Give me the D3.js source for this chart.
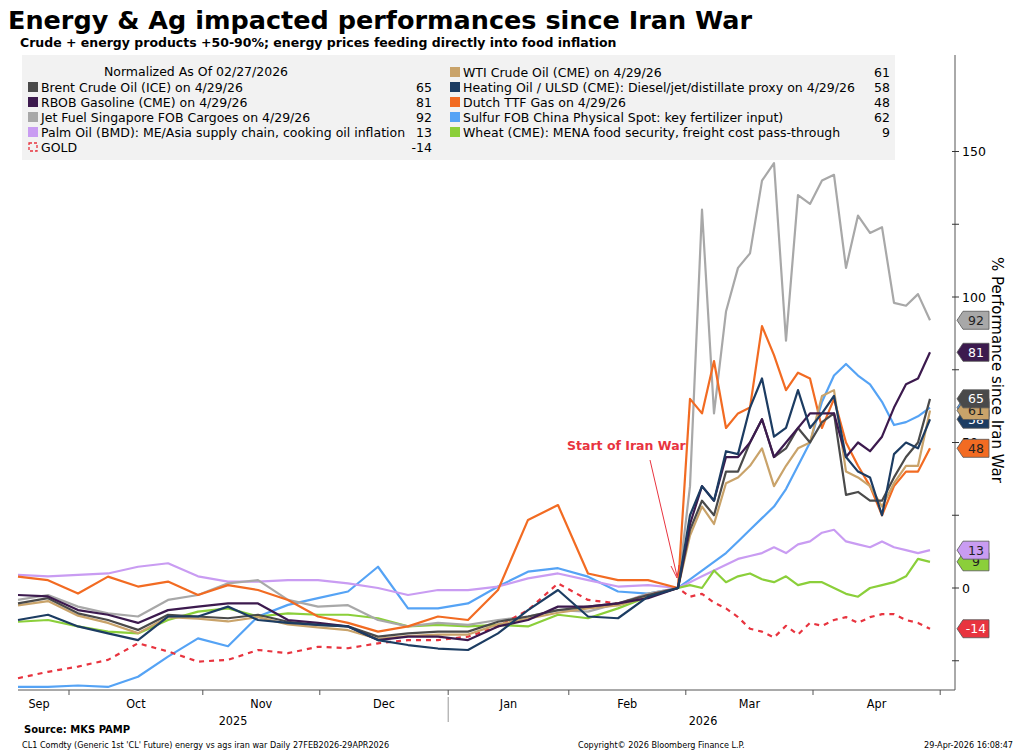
<!DOCTYPE html>
<html>
<head>
<meta charset="utf-8">
<script src="https://cdn.jsdelivr.net/npm/d3@7"></script>
<style>
body { margin: 0; background: #fff; }
text { font-family: "DejaVu Sans", Verdana, sans-serif; }
</style>
</head>
<body>
<div id="chart"></div>
<script>
// ---------------------- data (trading-day index, % since 02/27/2026) ----------------------
var days = [0,5,10,15,20,25,30,35,40,45,50,55,60,65,70,75,80,85,90,95,100,105,
            110,112,114,116,118,120,122,124,126,128,130,132,134,136,138,140,142,144,146,148,150,152];

var brent   = [-5.3,-3.5,-8.7,-11,-14.4,-9.2,-9.8,-10.4,-9.2,-11.6,-12.7,-13.2,-16.7,-15.6,-15,-15,-11.6,-9.8,-7.6,-6.4,-5.3,-2.4,
               0,20,30,25,40,40,50,58,45,48,55,50,57,60,32,33,30,30,38,45,50,65];
var wti     = [-6,-4.5,-9.5,-12,-15.5,-10,-10.5,-11.5,-10,-12.5,-13.5,-14.5,-17.5,-16.5,-16,-16,-12.5,-10.5,-8.5,-7,-6,-3,
               0,18,28,22,36,38,42,48,35,42,48,50,66,68,40,38,35,28,36,42,42,61];
var rbob    = [-2.4,-2.9,-7.6,-9.2,-12,-7.6,-6.4,-5.3,-5.3,-11,-12,-13.2,-17.9,-16.7,-16.7,-17.9,-13.2,-11,-6.4,-6.4,-5.3,-3.5,
               0,22,35,30,45,45,50,58,45,50,55,60,60,60,45,50,47,52,62,70,72,81];
var heating = [-11,-9.2,-13.2,-15.6,-17.9,-9.8,-9.8,-6.4,-11,-12,-12.7,-13.2,-17.9,-19.6,-20.8,-21.3,-15.6,-7.6,-0.7,-9.8,-10.4,-3,
               0,25,35,30,47,46,62,72,52,55,68,55,60,66,45,40,38,25,46,50,48,58];
var jet     = [-4.1,-2.4,-6.4,-8.7,-9.8,-4.1,-2.4,1.6,2.7,-4.1,-6.4,-5.9,-11,-13.2,-12,-12.7,-11,-9.8,-7.6,-8.1,-5.3,-1.9,
               0,35,130,60,95,110,115,140,146,85,135,132,140,142,110,128,122,124,98,97,101,92];
var ttf     = [3.9,2.7,-1.9,3.9,0.5,2.2,-2.4,1,-0.7,-4.1,-9.8,-12,-15,-13.2,-9.8,-11,-0.7,23.4,28.5,5,2.7,2.7,
               0,65,60,78,55,60,62,90,80,68,74,72,55,65,50,42,35,25,35,40,40,48];
var sulfur  = [-34,-34,-33.5,-34,-30.5,-23.6,-17.3,-20,-9.8,-5.8,-3.5,-1.2,7.3,-7,-7,-5.3,0.5,5.6,6.8,3.9,-1.2,-1.9,
               0,3,6,9,12,16,20,24,28,34,42,50,64,73,77,73,70,64,56,57,59,62];
var palm    = [4.5,4,4.5,5,7.3,8.5,4,2.2,2.2,2.7,2.7,1.6,0,-2.4,-0.7,-0.7,0.5,3.3,5,2.7,0.5,1,
               0,2,4,6,8,10,11,12,14,12,15,16,19,20,16,15,14,16,14,13,12,13];
var wheat   = [-11.6,-11,-13.2,-15,-15.6,-11,-8.1,-7,-9.8,-8.7,-9.2,-9.2,-10.4,-13.2,-12.7,-13.2,-12.7,-13.2,-9.2,-10.4,-7,-3,
               0,1,0,6,2,4,5,3,2,4,1,2,2,0,-2,-3,0,1,2,4,10,9];
var gold    = [-31,-28.8,-27,-24.7,-19,-21.8,-25.3,-24.7,-21.3,-22.4,-20.2,-20.7,-19,-17.9,-17.9,-16.7,-13.2,-7.6,1.6,-4.1,-5.3,-2.4,
               0,-3,-2,-5,-7,-10,-14,-15,-17,-13,-16,-12,-13,-11,-10,-12,-10,-9,-9,-11,-12,-14];

var monthTicks  = [8.5, 30.8, 50.3, 71.7, 91.8, 111.3, 132.5, 153.7];
var monthLabels = ["Sep","Oct","Nov","Dec","Jan","Feb","Mar","Apr"];
var yTicks  = [-25, 0, 25, 50, 75, 100, 125, 150];
var yLabels = [0, 50, 100, 150];

var legendLeft = [
  ["Brent Crude Oil (ICE) on 4/29/26", "65", "#4a4a4a"],
  ["RBOB Gasoline (CME) on 4/29/26", "81", "#3c1a4e"],
  ["Jet Fuel Singapore FOB Cargoes on 4/29/26", "92", "#a8a8a8"],
  ["Palm Oil (BMD): ME/Asia supply chain, cooking oil inflation", "13", "#c99cf2"],
  ["GOLD", "-14", "#e8343f"]
];
var legendRight = [
  ["WTI Crude Oil (CME) on 4/29/26", "61", "#c9a36a"],
  ["Heating Oil / ULSD (CME): Diesel/jet/distillate proxy on 4/29/26", "58", "#1c3c62"],
  ["Dutch TTF Gas on 4/29/26", "48", "#f26b22"],
  ["Sulfur FOB China Physical Spot: key fertilizer input)", "62", "#55a3f5"],
  ["Wheat (CME): MENA food security, freight cost pass-through", "9", "#8bcf3a"]
];

// ---------------------- svg ----------------------
var svg = d3.select("#chart").append("svg")
     .attr("width", 1024)
     .attr("height", 756);

var x = d3.scaleLinear().domain([0, 152]).range([18, 930]);
var y = d3.scaleLinear().domain([0, 150]).range([588, 151.5]);

svg.append("text").text("Energy & Ag impacted performances since Iran War")
     .attr("x", 8).attr("y", 29).style("font-size", "25.5px").style("font-weight", "bold");
svg.append("text").text("Crude + energy products +50-90%; energy prices feeding directly into food inflation")
     .attr("x", 20).attr("y", 47).style("font-size", "12.5px").style("font-weight", "bold");

// legend box
svg.append("rect").attr("x", 22).attr("y", 55).attr("width", 873).attr("height", 105).attr("fill", "#f2f2f2");
svg.append("text").text("Normalized As Of 02/27/2026").attr("x", 196).attr("y", 76)
     .attr("text-anchor", "middle").style("font-size", "12.5px");

function legendCol(rows, x0, xv, y0) {
  rows.forEach(function(r, i) {
    var yy = y0 + i * 15;
    if (r[0] === "GOLD") {
      svg.append("rect").attr("x", x0 + 1).attr("y", yy - 8).attr("width", 8).attr("height", 8)
         .attr("fill", "none").attr("stroke", r[2]).attr("stroke-width", 1.3).attr("stroke-dasharray", "3,2");
    } else {
      svg.append("rect").attr("x", x0).attr("y", yy - 9).attr("width", 10).attr("height", 10).attr("fill", r[2]);
    }
    svg.append("text").text(r[0]).attr("x", x0 + 13).attr("y", yy + 1).style("font-size", "12.5px");
    svg.append("text").text(r[1]).attr("x", xv).attr("y", yy + 1).attr("text-anchor", "end").style("font-size", "12.5px");
  });
}
legendCol(legendLeft, 28, 432, 91);
legendCol(legendRight, 450, 890, 76);

// ---------------------- axes ----------------------
svg.append("line").attr("x1", 18).attr("x2", 955).attr("y1", 690).attr("y2", 690).attr("stroke", "#555");
svg.append("line").attr("x1", 955).attr("x2", 955).attr("y1", 55).attr("y2", 690).attr("stroke", "#555");

monthTicks.forEach(function(d) {
  svg.append("line").attr("x1", x(d)).attr("x2", x(d)).attr("y1", 690).attr("y2", 695).attr("stroke", "#555");
});
monthLabels.forEach(function(m, i) {
  var a = i === 0 ? -1.5 : monthTicks[i - 1];
  svg.append("text").text(m).attr("x", x((a + monthTicks[i]) / 2)).attr("y", 708)
     .attr("text-anchor", "middle").style("font-size", "12.5px").style("font-family", "'DejaVu Sans Condensed', sans-serif");
});
svg.append("text").text("2025").attr("x", 233).attr("y", 725).attr("text-anchor", "middle")
     .style("font-size", "12.5px").style("font-family", "'DejaVu Sans Condensed', sans-serif");
svg.append("text").text("2026").attr("x", 703).attr("y", 725).attr("text-anchor", "middle")
     .style("font-size", "12.5px").style("font-family", "'DejaVu Sans Condensed', sans-serif");
svg.append("line").attr("x1", x(71.7)).attr("x2", x(71.7)).attr("y1", 697).attr("y2", 722).attr("stroke", "#999");

yTicks.forEach(function(t) {
  svg.append("line").attr("x1", 952).attr("x2", 959).attr("y1", y(t)).attr("y2", y(t)).attr("stroke", "#333");
});
yLabels.forEach(function(t) {
  svg.append("text").text(t).attr("x", 962).attr("y", y(t) + 4.5).style("font-size", "12.5px");
});
svg.append("text").text("% Performance since Iran War")
     .attr("transform", "translate(992,370) rotate(90)").attr("text-anchor", "middle").style("font-size", "15px");

// ---------------------- lines ----------------------
var line = d3.line().x(function(d, i) { return x(days[i]); }).y(function(d) { return y(d); });

var series = [
  [sulfur, "#55a3f5", null],
  [palm, "#c99cf2", null],
  [wheat, "#8bcf3a", null],
  [jet, "#a8a8a8", null],
  [ttf, "#f26b22", null],
  [gold, "#e8343f", "5,5"],
  [wti, "#c9a36a", null],
  [brent, "#4a4a4a", null],
  [rbob, "#3c1a4e", null],
  [heating, "#1c3c62", null]
];
series.forEach(function(s) {
  svg.append("path").datum(s[0]).attr("d", line).attr("fill", "none")
     .attr("stroke", s[1]).attr("stroke-width", 2.2).attr("stroke-dasharray", s[2])
     .attr("stroke-linejoin", "round");
});

// annotation
svg.append("text").text("Start of Iran War").attr("x", 567).attr("y", 450)
     .attr("fill", "#e8343f").style("font-size", "12.5px").style("font-weight", "bold");
svg.append("line").attr("x1", 650).attr("y1", 460).attr("x2", 677).attr("y2", 576).attr("stroke", "#e8343f").attr("stroke-width", 1);
svg.append("path").attr("d", "M671,566 L677,578 L679,565").attr("fill", "none").attr("stroke", "#e8343f").attr("stroke-width", 1);

// ---------------------- end tags ----------------------
var tags = [
  [62, "#55a3f5", "#fff"], [9, "#8bcf3a", "#222"], [13, "#c99cf2", "#222"], [-14, "#e8343f", "#fff"],
  [48, "#f26b22", "#222"], [92, "#a8a8a8", "#222"], [58, "#1c3c62", "#fff"], [61, "#c9a36a", "#222"],
  [65, "#4a4a4a", "#fff"], [81, "#3c1a4e", "#fff"]
];
tags.forEach(function(t) {
  var yy = y(t[0]);
  svg.append("path").attr("d", "M957," + yy + " L963," + (yy - 9) + " L989," + (yy - 9) + " L989," + (yy + 9) + " L963," + (yy + 9) + " Z")
     .attr("fill", t[1]).attr("stroke", "#555").attr("stroke-width", 0.8);
  svg.append("text").text(t[0]).attr("x", 976).attr("y", yy + 4.5).attr("text-anchor", "middle")
     .attr("fill", t[2]).style("font-size", "12.5px");
});

// ---------------------- footer ----------------------
svg.append("text").text("Source: MKS PAMP").attr("x", 24).attr("y", 733)
     .style("font-size", "10px").style("font-weight", "bold");
svg.append("text").text("CL1 Comdty (Generic 1st 'CL' Future) energy vs ags iran war Daily 27FEB2026-29APR2026")
     .attr("x", 22).attr("y", 748).style("font-size", "9px").style("font-family", "'DejaVu Sans Condensed', sans-serif");
svg.append("text").text("Copyright\u00a9 2026 Bloomberg Finance L.P.")
     .attr("x", 578).attr("y", 748).style("font-size", "9px").style("font-family", "'DejaVu Sans Condensed', sans-serif");
svg.append("text").text("29-Apr-2026 16:08:47")
     .attr("x", 1013).attr("y", 748).attr("text-anchor", "end").style("font-size", "9px").style("font-family", "'DejaVu Sans Condensed', sans-serif");
</script>
</body>
</html>
